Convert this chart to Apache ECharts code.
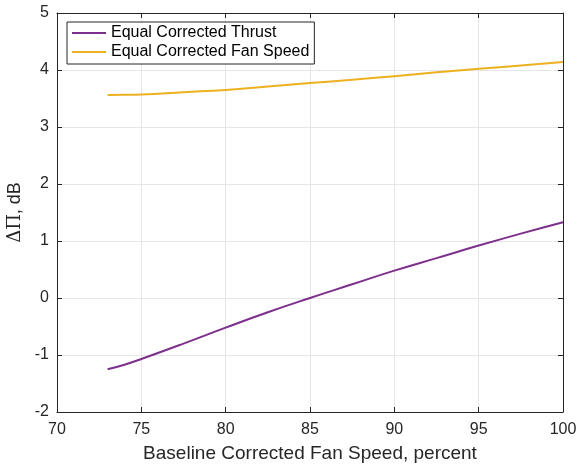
<!DOCTYPE html>
<html>
<head>
<meta charset="utf-8">
<script src="https://cdn.jsdelivr.net/npm/echarts@6/dist/echarts.min.js"></script>
<style>
  html, body { margin: 0; padding: 0; background: #fff; }
  #chart { width: 577px; height: 465px; }
</style>
</head>
<body>
<div id="chart"></div>
<script>
// fan speed, percent
var fanSpeed = [73, 74, 75, 77.5, 80, 82.5, 85, 87.5, 90, 92.5, 95, 97.5, 100];
// delta PWL, dB
var equalThrust = [-1.25, -1.17, -1.07, -0.80, -0.52, -0.25, 0.00, 0.24, 0.48, 0.70, 0.92, 1.13, 1.33];
var equalFanSpeed = [3.56, 3.565, 3.57, 3.61, 3.65, 3.71, 3.77, 3.83, 3.89, 3.96, 4.02, 4.08, 4.14];
var seriesNames = ['Equal Corrected Thrust', 'Equal Corrected Fan Speed'];
var seriesColors = ['#7E2F8E', '#EDB120'];

function pairs(xs, ys) {
  var out = [];
  for (var i = 0; i < xs.length; i++) out.push([xs[i], ys[i]]);
  return out;
}

var chart = echarts.init(document.getElementById('chart'));
var font = 'Liberation Sans, Arial, sans-serif';
var dark = '#262626';

var option = {
  animation: false,
  textStyle: { fontFamily: font },
  grid: { left: 57, right: 14, top: 13, bottom: 53, show: false, containLabel: false, outerBoundsMode: 'none' },
  legend: {
    data: seriesNames,
    orient: 'vertical',
    left: 67, top: 22,
    itemWidth: 34, itemHeight: 2, itemGap: 3,
    padding: [3, 5, 4, 5],
    borderColor: dark, borderWidth: 1,
    backgroundColor: '#fff',
    icon: 'rect',
    textStyle: { fontSize: 16, color: '#000', fontFamily: font, lineHeight: 16 }
  },
  xAxis: [{
    type: 'value', min: 70, max: 100, interval: 5,
    name: 'Baseline Corrected Fan Speed, percent',
    nameLocation: 'middle', nameGap: 32,
    nameTextStyle: { fontSize: 19, color: dark },
    axisLine: { show: true, onZero: false, lineStyle: { color: dark } },
    axisTick: { inside: true, length: 5, lineStyle: { color: dark } },
    axisLabel: { fontSize: 16, color: dark, margin: 10 },
    splitLine: { show: true, lineStyle: { color: '#e6e6e6' } }
  }, {
    type: 'value', min: 70, max: 100, interval: 5, position: 'top',
    axisLine: { show: true, onZero: false, lineStyle: { color: dark } },
    axisTick: { inside: true, length: 5, lineStyle: { color: dark } },
    axisLabel: { show: false }, splitLine: { show: false }
  }],
  yAxis: [{
    type: 'value', min: -2, max: 5, interval: 1,
    name: '{g|ΔΠ}, dB',
    nameLocation: 'middle', nameGap: 22,
    nameTextStyle: { fontSize: 18, color: dark, rich: { g: { fontSize: 18, fontFamily: 'DejaVu Serif', color: dark } } },
    axisLine: { show: true, onZero: false, lineStyle: { color: dark } },
    axisTick: { inside: true, length: 5, lineStyle: { color: dark } },
    axisLabel: { fontSize: 16, color: dark, margin: 8 },
    splitLine: { show: true, lineStyle: { color: '#e6e6e6' } }
  }, {
    type: 'value', min: -2, max: 5, interval: 1, position: 'right',
    axisLine: { show: true, onZero: false, lineStyle: { color: dark } },
    axisTick: { inside: true, length: 5, lineStyle: { color: dark } },
    axisLabel: { show: false }, splitLine: { show: false }
  }],
  series: [{
    name: seriesNames[0], type: 'line', smooth: true, showSymbol: false,
    data: pairs(fanSpeed, equalThrust),
    color: seriesColors[0], lineStyle: { width: 2 }
  }, {
    name: seriesNames[1], type: 'line', smooth: true, showSymbol: false,
    data: pairs(fanSpeed, equalFanSpeed),
    color: seriesColors[1], lineStyle: { width: 2 }
  }]
};
chart.setOption(option);
</script>
</body>
</html>
